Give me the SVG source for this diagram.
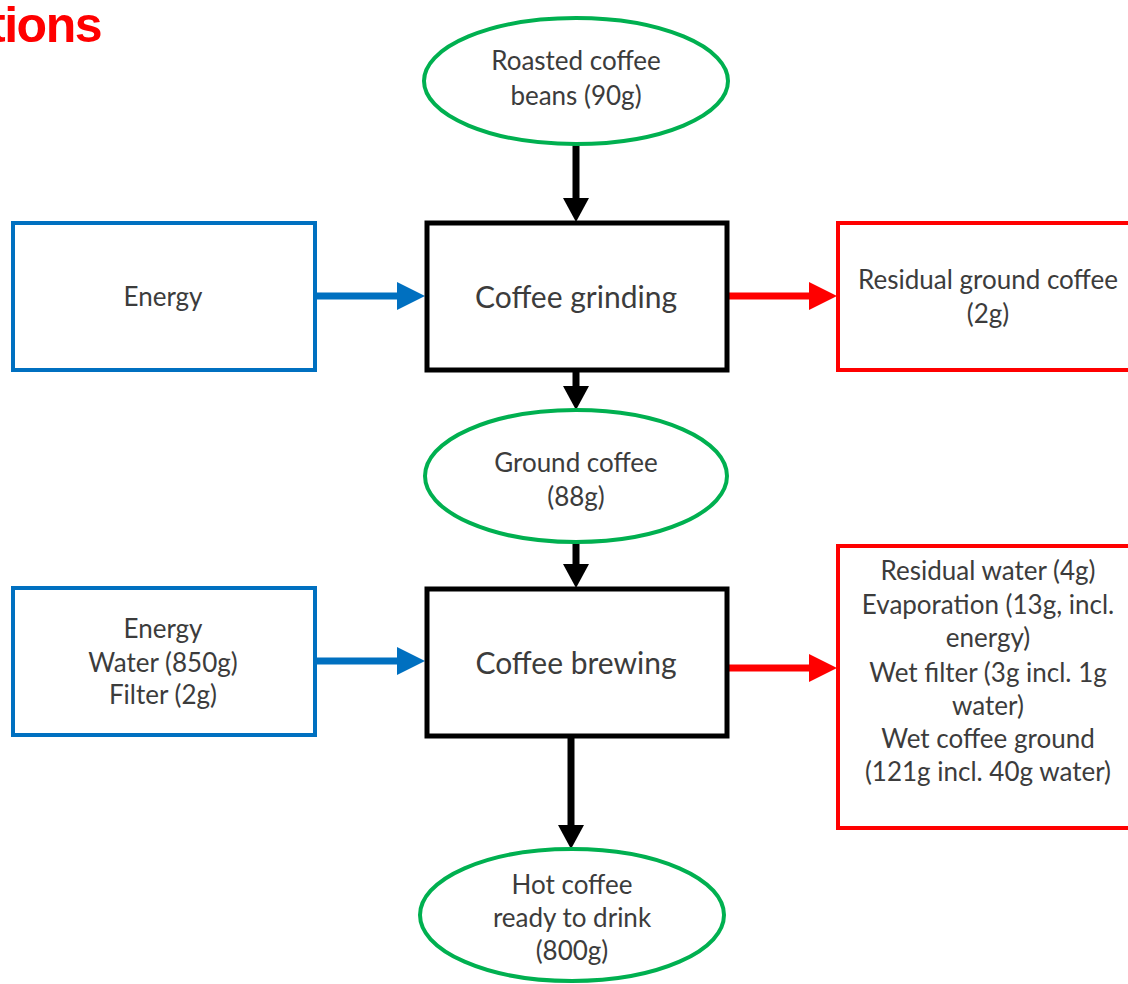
<svg xmlns="http://www.w3.org/2000/svg" width="1128" height="984" viewBox="0 0 1128 984">
  <style>
    .lbl { font-family: Lato, "Open Sans", "Liberation Sans", sans-serif; fill: #3c3c3c; text-anchor: middle; dominant-baseline: central; }
    .sm { font-size: 26px; }
    .lg { font-size: 30px; }
    .product { fill: #ffffff; stroke: #00b050; stroke-width: 4; }
    .input { fill: #ffffff; stroke: #0070c0; stroke-width: 4; }
    .output { fill: #ffffff; stroke: #ff0000; stroke-width: 4; }
    .process { fill: #ffffff; stroke: #000000; stroke-width: 5; }
    .flow-k { stroke: #000000; stroke-width: 7; fill: none; }
    .flow-b { stroke: #0070c0; stroke-width: 7; fill: none; }
    .flow-r { stroke: #ff0000; stroke-width: 7; fill: none; }
    .title { font-family: "Liberation Sans", Arial, sans-serif; font-weight: bold; font-size: 50px; letter-spacing: -1.5px; fill: #ff0000; }
  </style>
  <defs>
    <marker id="headK" viewBox="0 0 24 26" markerWidth="24" markerHeight="26" markerUnits="userSpaceOnUse" refX="0" refY="13" orient="auto">
      <path d="M0,0 L24,13 L0,26 z" fill="#000000"/>
    </marker>
    <marker id="headB" viewBox="0 0 28 28" markerWidth="28" markerHeight="28" markerUnits="userSpaceOnUse" refX="0" refY="14" orient="auto">
      <path d="M0,0 L28,14 L0,28 z" fill="#0070c0"/>
    </marker>
    <marker id="headR" viewBox="0 0 28 28" markerWidth="28" markerHeight="28" markerUnits="userSpaceOnUse" refX="0" refY="14" orient="auto">
      <path d="M0,0 L28,14 L0,28 z" fill="#ff0000"/>
    </marker>
  </defs>

  <rect width="1128" height="984" fill="#ffffff"/>

  <!-- heading fragment running off the left edge -->
  <text class="title" x="101" y="42" text-anchor="end">tions</text>

  <!-- connectors -->
  <g id="connectors">
    <line class="flow-k" x1="576" y1="144" x2="576" y2="198" marker-end="url(#headK)"/>
    <line class="flow-k" x1="576" y1="370" x2="576" y2="386" marker-end="url(#headK)"/>
    <line class="flow-k" x1="576" y1="542" x2="576" y2="564" marker-end="url(#headK)"/>
    <line class="flow-k" x1="571" y1="736" x2="571" y2="825" marker-end="url(#headK)"/>
    <line class="flow-b" x1="316" y1="296" x2="397" y2="296" marker-end="url(#headB)"/>
    <line class="flow-r" x1="727" y1="296" x2="809" y2="296" marker-end="url(#headR)"/>
    <line class="flow-b" x1="316" y1="661" x2="397" y2="661" marker-end="url(#headB)"/>
    <line class="flow-r" x1="727" y1="668" x2="809" y2="668" marker-end="url(#headR)"/>
  </g>

  <g id="roasted-beans">
    <ellipse class="product" cx="576" cy="81" rx="152" ry="63"/>
    <text class="lbl sm" x="576" y="60">Roasted coffee</text>
    <text class="lbl sm" x="576" y="95">beans (90g)</text>
  </g>

  <g id="energy-1">
    <rect class="input" x="13" y="223" width="302" height="147"/>
    <text class="lbl sm" x="163" y="296">Energy</text>
  </g>

  <g id="coffee-grinding">
    <rect class="process" x="427" y="223" width="300" height="147"/>
    <text class="lbl lg" x="576" y="296">Coffee grinding</text>
  </g>

  <g id="residual-ground">
    <rect class="output" x="838" y="223" width="300" height="147"/>
    <text class="lbl sm" x="988" y="279">Residual ground coffee</text>
    <text class="lbl sm" x="988" y="313">(2g)</text>
  </g>

  <g id="ground-coffee">
    <ellipse class="product" cx="576" cy="476" rx="151" ry="66"/>
    <text class="lbl sm" x="576" y="462">Ground coffee</text>
    <text class="lbl sm" x="576" y="496">(88g)</text>
  </g>

  <g id="brew-inputs">
    <rect class="input" x="13" y="588" width="302" height="147"/>
    <text class="lbl sm" x="163" y="628">Energy</text>
    <text class="lbl sm" x="163" y="662">Water (850g)</text>
    <text class="lbl sm" x="163" y="694">Filter (2g)</text>
  </g>

  <g id="coffee-brewing">
    <rect class="process" x="427" y="589" width="300" height="147"/>
    <text class="lbl lg" x="576" y="662">Coffee brewing</text>
  </g>

  <g id="brew-outputs">
    <rect class="output" x="838" y="546" width="300" height="282"/>
    <text class="lbl sm" x="988" y="570">Residual water (4g)</text>
    <text class="lbl sm" x="988" y="604">Evaporation (13g, incl.</text>
    <text class="lbl sm" x="988" y="637">energy)</text>
    <text class="lbl sm" x="988" y="672">Wet filter (3g incl. 1g</text>
    <text class="lbl sm" x="988" y="705">water)</text>
    <text class="lbl sm" x="988" y="738">Wet coffee ground</text>
    <text class="lbl sm" x="988" y="771">(121g incl. 40g water)</text>
  </g>

  <g id="hot-coffee">
    <ellipse class="product" cx="572" cy="915" rx="152" ry="66"/>
    <text class="lbl sm" x="572" y="884">Hot coffee</text>
    <text class="lbl sm" x="572" y="917">ready to drink</text>
    <text class="lbl sm" x="572" y="950">(800g)</text>
  </g>
</svg>
